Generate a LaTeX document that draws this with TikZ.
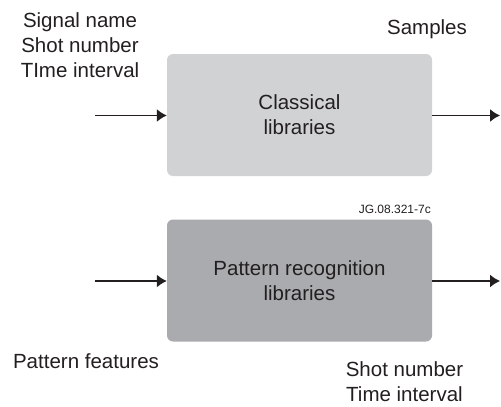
\documentclass[tikz,border=0pt]{standalone}
\usepackage{fontspec}
\setmainfont{Liberation Sans}
\usetikzlibrary{%
  arrows.meta,%
  positioning%
}
\tikzset{>={Latex[length=10pt,width=13pt]}}
\definecolor{classgray}{RGB}{209,210,212}
\definecolor{patgray}{RGB}{170,171,174}
\definecolor{inkgray}{RGB}{35,31,32}
\tikzset{
  txt/.style={align=center,inner sep=0pt,text=inkgray,font=\fontsize{20.5}{25}\selectfont},
  libbox/.style={txt,rounded corners=6pt,minimum width=265pt,minimum height=122pt},
  flow/.style={->,line width=1.4pt,draw=inkgray}
}

\begin{document}
\begin{tikzpicture}[x=1pt,y=-1pt]
    \useasboundingbox (0,0) rectangle (501,407);
    % library boxes
    \node[libbox,fill=classgray] (classic) at (299.5,115) {Classical\\libraries};
    \node[libbox,fill=patgray] (pattern) at (299.5,280.5) {Pattern recognition\\libraries};
    % inputs and outputs
    \node[txt,anchor=north] (query) at (80,12.5) {Signal name\\Shot number\\TIme interval};
    \node[txt,anchor=base] (samples) at (427,34) {Samples};
    \node[txt,anchor=base] (features) at (86,368) {Pattern features};
    \node[txt,anchor=north] (found) at (404.5,361.5) {Shot number\\Time interval};
    \node[anchor=base east,inner sep=0pt,text=inkgray,font=\fontsize{12}{13}\selectfont] (tag) at (431,213) {JG.08.321-7c};
    \coordinate (cin) at (95,115.5);
    \coordinate (cout) at (500,115.5);
    \coordinate (pin) at (95,281);
    \coordinate (pout) at (500,281);
    \draw[flow] (cin) -- (classic.west |- cin);
    \draw[flow] (classic.east |- cout) -- (cout);
    \draw[flow] (pin) -- (pattern.west |- pin);
    \draw[flow] (pattern.east |- pout) -- (pout);
\end{tikzpicture}
\end{document}
